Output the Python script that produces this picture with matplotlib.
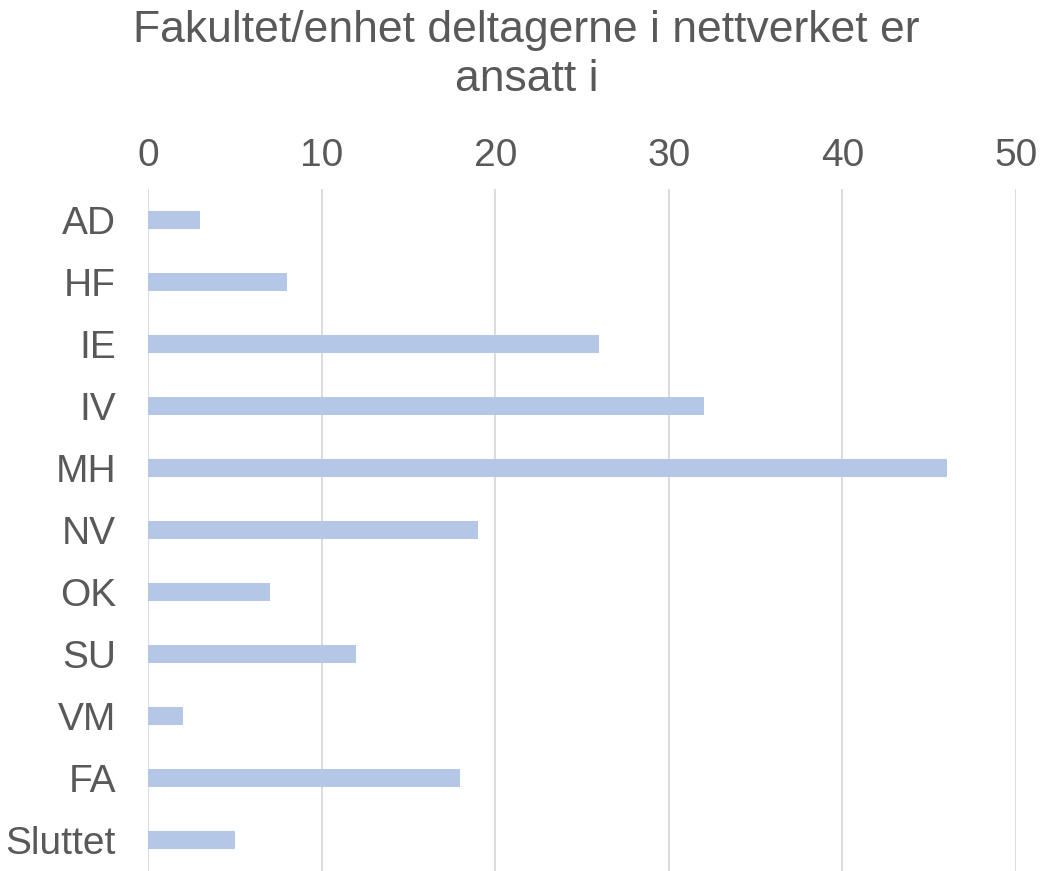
#imports
import matplotlib.pyplot as plt

#data
categories = ["AD", "HF", "IE", "IV", "MH", "NV", "OK", "SU", "VM", "FA", "Sluttet"]
values = [3, 8, 26, 32, 46, 19, 7, 12, 2, 18, 5]
xticks = [0, 10, 20, 30, 40, 50]
title = "Fakultet/enhet deltagerne i nettverket er\nansatt i"

plt.rcParams['font.family'] = ['Liberation Sans', 'DejaVu Sans']
text_color = "#595959"

fig = plt.figure(figsize=(10.41, 8.71), dpi=100)
#axes placed in figure fractions to match the reference layout
ax = fig.add_axes([148 / 1041, 0.0, (1016 - 148) / 1041, (871 - 189) / 871])

pos = list(range(len(categories)))
ax.barh(pos, values, height=0.3, color="#B4C7E7", zorder=3)

ax.set_xlim(0, 50)
ax.set_ylim(len(categories) - 0.5, -0.5)
ax.set_yticks(pos)
ax.set_yticklabels(categories)
ax.set_xticks(xticks)
ax.xaxis.tick_top()
ax.tick_params(axis="both", length=0, labelsize=28, colors=text_color)
ax.tick_params(axis="x", pad=11)
ax.tick_params(axis="y", pad=23)

#vertical grid only
ax.grid(axis="x", color="#D9D9D9", linewidth=1.3, zorder=0)
for s in ax.spines.values():
    s.set_visible(False)

fig.text(0.506, 0.988, title, ha="center", va="top", fontsize=32,
         color=text_color, linespacing=1.25)

fig.savefig("out.png", dpi=100)
